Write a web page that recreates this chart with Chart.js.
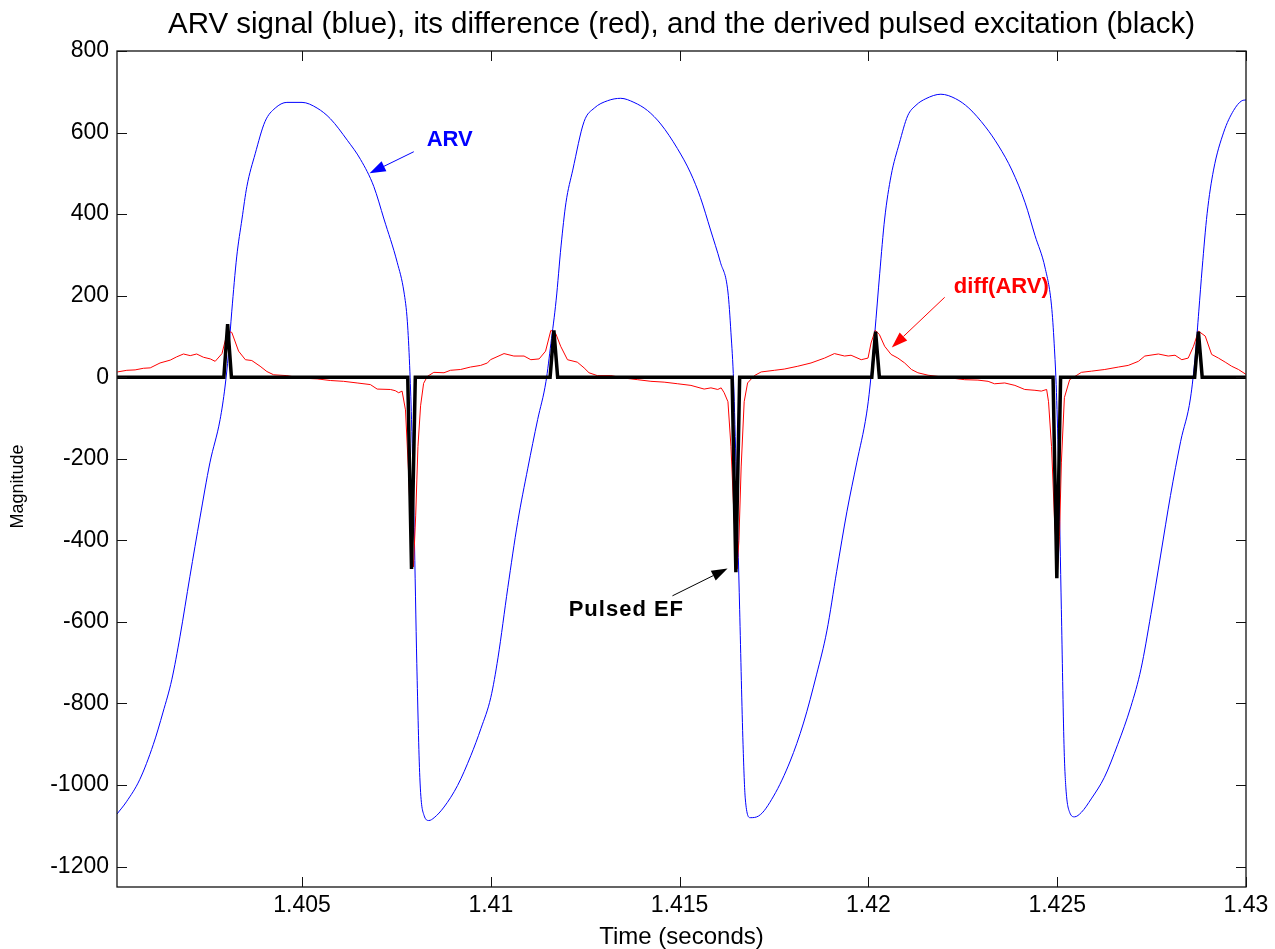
<!DOCTYPE html>
<html>
<head>
<meta charset="utf-8">
<script src="https://cdn.jsdelivr.net/npm/chart.js@4.4.0/dist/chart.umd.min.js"></script>
<style>
  html, body { margin: 0; padding: 0; background: #fff; }
</style>
</head>
<body>
<canvas id="arvChart" width="1275" height="949"></canvas>
<script>
// ARV signal (blue)
const arvTime = [1.4001,1.40035,1.4007,1.40106,1.40132,1.40155,1.40177,1.40203,1.4023,1.40256,1.40283,1.40296,1.40305,1.40314,1.40327,1.40341,1.40354,1.40376,1.40402,1.40429,1.4046,1.405,1.4054,1.40575,1.4062,1.40655,1.4069,1.40717,1.40752,1.4077,1.40779,1.40785,1.4079,1.40797,1.40804,1.40812,1.40823,1.40836,1.4085,1.40876,1.40912,1.40947,1.40974,1.41,
  1.41019,1.41045,1.41071,1.41098,1.41124,1.41146,1.41159,1.41173,1.41186,1.41199,1.41217,1.41247,1.41274,1.41309,1.41344,1.41379,1.41415,1.4145,1.41494,1.41529,1.41555,1.41582,1.41608,1.41628,1.41636,1.41643,1.4165,1.41659,1.41668,1.41674,1.41687,1.41709,1.41749,1.41793,1.41828,1.41863,1.4189,1.41916,1.41943,1.41969,1.41995,1.42004,1.42017,
  1.4203,1.42043,1.4206,1.42082,1.42104,1.42126,1.42152,1.42192,1.42231,1.42266,1.4231,1.42345,1.4238,1.42415,1.42441,1.42468,1.42485,1.42492,1.42498,1.42504,1.42511,1.42518,1.42523,1.42533,1.42546,1.42564,1.4259,1.42625,1.4266,1.42695,1.42722,1.42748,1.42774,1.428,1.42827,1.42853,1.42866,1.42875,1.42884,1.42897,1.42914,1.42941,1.42967,1.42989,1.43];
const arvValue = [-1071,-1041,-987,-901,-821,-742,-635,-489,-343,-210,-104,-24,56,162,295,388,468,548,627,660,674,674,660,634,581,534,468,388,282,209,136,29,-104,-369,-702,-981,-1074,-1087,-1080,-1054,-1001,-928,-861,-785,
  -688,-516,-356,-223,-104,-11,82,189,322,428,508,627,660,678,684,674,654,621,561,501,441,361,282,209,109,-11,-237,-569,-901,-1034,-1080,-1076,-1027,-941,-848,-728,-622,-476,-330,-210,-90,-24,109,
  255,388,494,574,641,667,683,694,683,660,614,567,508,428,348,268,175,82,-37,-237,-569,-901,-1007,-1067,-1078,-1067,-1034,-981,-901,-808,-715,-582,-436,-290,-157,-51,56,162,268,401,508,601,654,678,680];

// diff(ARV) (red)
const diffTime = [1.40011,1.40036,1.40058,1.4008,1.40098,1.40124,1.40151,1.40168,1.40186,1.40204,1.40221,1.40239,1.40257,1.4027,1.40288,1.40303,1.40314,1.40332,1.4035,1.40367,1.40389,1.40407,1.40425,1.4046,1.40496,1.4054,1.40575,1.4061,1.40646,1.40681,1.40699,1.40734,1.40747,1.40756,1.40765,1.40774,1.40782,1.4079,1.40795,1.40801,1.40807,1.40814,1.40822,1.40832,1.40849,1.40876,1.40893,1.4092,1.40946,1.40973,1.40991,
  1.40999,1.41035,1.41061,1.41088,1.41106,1.41128,1.41145,1.41159,1.41172,1.41185,1.41203,1.41229,1.41247,1.4126,1.41282,1.41318,1.41353,1.41389,1.41424,1.41459,1.41495,1.4153,1.41565,1.41583,1.41601,1.4161,1.41618,1.41628,1.41636,1.41644,1.41652,1.41657,1.41663,1.41671,1.4168,1.41698,1.41716,1.41751,1.41777,1.41813,1.41848,1.41884,1.4191,1.41937,1.41954,1.41981,1.41999,1.42007,
  1.42018,1.42029,1.42043,1.4206,1.42078,1.42096,1.42114,1.42131,1.42158,1.42184,1.4222,1.42255,1.4229,1.42317,1.42334,1.42361,1.42388,1.42414,1.42441,1.42458,1.42472,1.42477,1.42485,1.42493,1.42501,1.42506,1.42511,1.42519,1.42533,1.42547,1.42564,1.42591,1.42626,1.42662,1.42688,1.42715,1.42732,1.42768,1.42794,1.42812,1.4283,1.42847,1.42861,1.42874,1.42892,1.42909,1.42927,1.42945,1.42962,1.4298,1.43];
const diffValue = [13,17,18,22,23,35,42,50,57,53,57,49,45,39,58,113,110,64,43,41,27,14,6,4,-2,-4,-8,-10,-14,-18,-29,-30,-33,-38,-34,-80,-230,-420,-465,-340,-170,-70,-15,2,12,11,17,19,25,29,35,
  43,58,52,52,43,45,64,115,107,76,43,37,23,11,4,4,-2,-6,-10,-12,-16,-20,-29,-26,-30,-26,-38,-60,-170,-340,-470,-400,-220,-60,-14,4,13,17,20,27,35,47,58,52,54,43,47,84,
  115,105,76,56,47,35,19,11,5,2,-2,-6,-7,-10,-16,-14,-20,-30,-32,-34,-30,-60,-170,-350,-470,-390,-210,-50,-6,2,12,15,19,25,29,39,52,57,52,54,43,47,76,113,101,56,47,37,27,19,7];

// Pulsed excitation (black)
const pulseTime = [1.4001,1.40293,1.40303,1.40313,1.4078,1.4079,1.408,1.41157,1.41167,1.41177,1.41639,1.41649,1.41659,1.42009,1.42019,1.42029,1.42489,1.42499,1.42509,1.42864,1.42874,1.42884,1.43];
const pulseValue = [0,0,130,0,0,-470,0,0,115,0,0,-478,0,0,112,0,0,-493,0,0,112,0,0];

// axes
const xTicks = [1.405,1.41,1.415,1.42,1.425,1.43];
const xTickLabels = ['1.405','1.41','1.415','1.42','1.425','1.43'];
const yTicks = [-1200,-1000,-800,-600,-400,-200,0,200,400,600,800];

// text labels with arrows: [text, colour, textX, textY, tailX, tailY, headX, headY]
const notes = [
  ['ARV', '#0000ff', 1.40891, 582, 1.40796, 553, 1.40679, 500],
  ['diff(ARV)', '#ff0000', 1.42352, 221, 1.42202, 196, 1.42062, 73],
  ['Pulsed EF', '#000000', 1.41359, -571, 1.41481, -536, 1.41627, -469]
];

const FONT = '"Liberation Sans", Arial, Helvetica, sans-serif';

function toPoints(xs, ys) {
  return xs.map((x, i) => ({x: x, y: ys[i]}));
}

// MATLAB style box with inward ticks on all sides
const boxTicks = {
  id: 'boxTicks',
  afterDatasetsDraw(chart) {
    const ctx = chart.ctx, a = chart.chartArea;
    const sx = chart.scales.x, sy = chart.scales.y;
    const len = 10;
    ctx.save();
    ctx.strokeStyle = '#111';
    ctx.lineWidth = 1.3;
    ctx.strokeRect(a.left, a.top, a.right - a.left, a.bottom - a.top);
    ctx.lineWidth = 1;
    ctx.beginPath();
    xTicks.forEach(v => {
      const px = Math.round(sx.getPixelForValue(v)) + 0.5;
      ctx.moveTo(px, a.bottom); ctx.lineTo(px, a.bottom - len);
      ctx.moveTo(px, a.top); ctx.lineTo(px, a.top + len);
    });
    yTicks.forEach(v => {
      const py = Math.round(sy.getPixelForValue(v)) + 0.5;
      ctx.moveTo(a.left, py); ctx.lineTo(a.left + len, py);
      ctx.moveTo(a.right, py); ctx.lineTo(a.right - len, py);
    });
    ctx.stroke();
    ctx.restore();
  }
};

const arrowNotes = {
  id: 'arrowNotes',
  afterDraw(chart) {
    const ctx = chart.ctx;
    const sx = chart.scales.x, sy = chart.scales.y;
    ctx.save();
    notes.forEach(n => {
      const [text, col, tx, ty, ax, ay, hx, hy] = n;
      const x0 = sx.getPixelForValue(ax), y0 = sy.getPixelForValue(ay);
      const x1 = sx.getPixelForValue(hx), y1 = sy.getPixelForValue(hy);
      const ang = Math.atan2(y1 - y0, x1 - x0);
      const hl = 16, hw = 5.5;
      ctx.strokeStyle = col;
      ctx.fillStyle = col;
      ctx.lineWidth = 1;
      ctx.beginPath();
      ctx.moveTo(x0, y0);
      ctx.lineTo(x1 - Math.cos(ang) * hl, y1 - Math.sin(ang) * hl);
      ctx.stroke();
      ctx.beginPath();
      ctx.moveTo(x1, y1);
      ctx.lineTo(x1 - Math.cos(ang) * hl - Math.sin(ang) * hw, y1 - Math.sin(ang) * hl + Math.cos(ang) * hw);
      ctx.lineTo(x1 - Math.cos(ang) * hl + Math.sin(ang) * hw, y1 - Math.sin(ang) * hl - Math.cos(ang) * hw);
      ctx.closePath();
      ctx.fill();
      ctx.font = 'bold 22px ' + FONT;
      ctx.textAlign = 'center';
      ctx.textBaseline = 'middle';
      ctx.letterSpacing = text === 'Pulsed EF' ? '1px' : '0px';
      ctx.fillText(text, sx.getPixelForValue(tx), sy.getPixelForValue(ty));
    });
    ctx.restore();
  }
};

new Chart("arvChart", {
  type: "line",
  data: {
    datasets: [{
      data: toPoints(pulseTime, pulseValue),
      borderColor: "#000000",
      borderWidth: 3.5,
      pointRadius: 0,
      tension: 0
    }, {
      data: toPoints(diffTime, diffValue),
      borderColor: "#ff0000",
      borderWidth: 1,
      pointRadius: 0,
      tension: 0
    }, {
      data: toPoints(arvTime, arvValue),
      borderColor: "#0000ff",
      borderWidth: 1,
      pointRadius: 0,
      cubicInterpolationMode: 'monotone'
    }]
  },
  options: {
    responsive: false,
    animation: false,
    events: [],
    layout: { padding: { top: 0, right: 29, bottom: 0, left: 0 } },
    plugins: {
      legend: { display: false },
      tooltip: { enabled: false },
      title: {
        display: true,
        fullSize: false,
        text: 'ARV signal (blue), its difference (red), and the derived pulsed excitation (black)',
        color: '#000',
        font: { family: FONT, size: 29.5, weight: 'normal', lineHeight: 1.2 },
        padding: { top: 7, bottom: 8.6 }
      }
    },
    scales: {
      x: {
        type: 'linear',
        min: 1.4001,
        max: 1.43,
        grid: { display: false, drawTicks: false },
        border: { display: false },
        afterBuildTicks: s => { s.ticks = xTicks.map(v => ({ value: v })); },
        afterFit: s => { s.height = 62; },
        ticks: {
          autoSkip: false,
          maxRotation: 0,
          padding: 5,
          color: '#000',
          font: { family: FONT, size: 23 },
          callback: (v, i) => xTickLabels[i]
        },
        title: {
          display: true,
          text: 'Time (seconds)',
          color: '#000',
          font: { family: FONT, size: 24, lineHeight: 1 },
          padding: { top: 0, bottom: 0 }
        }
      },
      y: {
        min: -1250,
        max: 800,
        grid: { display: false, drawTicks: false },
        border: { display: false },
        afterBuildTicks: s => { s.ticks = yTicks.map(v => ({ value: v })); },
        afterFit: s => { s.width = 117; },
        ticks: {
          padding: 8,
          color: '#000',
          font: { family: FONT, size: 23 },
          callback: v => String(v)
        },
        title: {
          display: true,
          text: 'Magnitude       ',
          color: '#000',
          font: { family: FONT, size: 18, lineHeight: 1 },
          padding: { top: 9, bottom: 0 }
        }
      }
    }
  },
  plugins: [boxTicks, arrowNotes]
});
</script>
</body>
</html>
